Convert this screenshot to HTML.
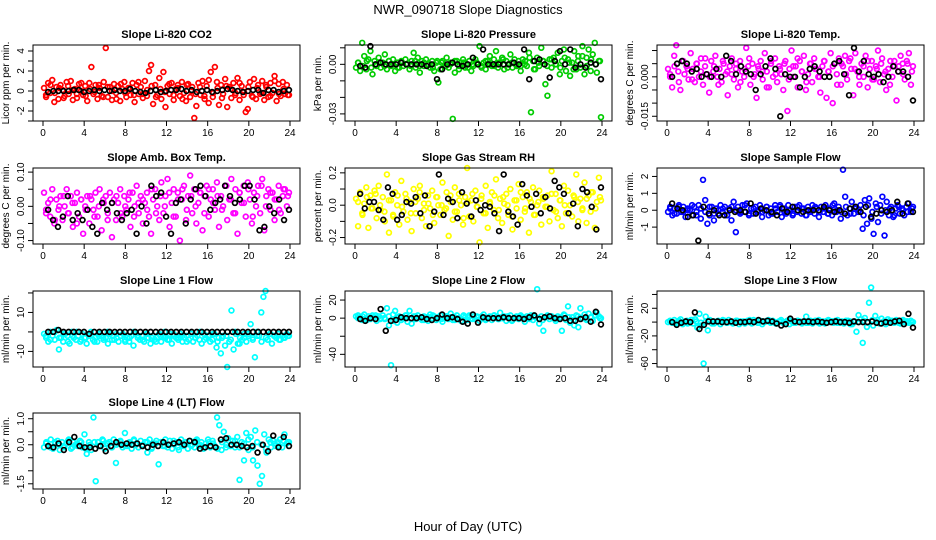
<!DOCTYPE html>
<html><head><meta charset="utf-8"><style>
body{margin:0;background:#fff}
svg{display:block;font-family:"Liberation Sans",sans-serif}
</style></head><body>
<svg id="c" width="936" height="540" viewBox="0 0 936 540">
<rect width="936" height="540" fill="#fff"/>
<text x="468" y="14" text-anchor="middle" font-size="13">NWR_090718  Slope Diagnostics</text>
<text x="468" y="531" text-anchor="middle" font-size="13">Hour of Day (UTC)</text>
</svg>
<script>
const xTicks=[0,4,8,12,16,20,24];
const titles=["Slope Li-820 CO2","Slope Li-820 Pressure","Slope Li-820 Temp.","Slope Amb. Box Temp.","Slope Gas Stream RH","Slope Sample Flow","Slope Line 1 Flow","Slope Line 2 Flow","Slope Line 3 Flow","Slope Line 4 (LT) Flow"];
const yTitles=["Licor ppm per min.","kPa per min.","degrees C per min.","degrees C per min.","percent per min.","ml/min per min.","ml/min per min.","ml/min per min.","ml/min per min.","ml/min per min."];
const colors=["#ff0000","#00cc00","#ff00ff","#ff00ff","#ffff00","#0000ff","#00ffff","#00ffff","#00ffff","#00ffff"];
const yTickVals=[[-3,-2,-1,0,1,2,3,4],[0.01,0,-0.01,-0.02,-0.03],[0.01,0.005,0,-0.005,-0.01,-0.015],[0.1,0.05,0,-0.05,-0.1],[0.2,0.1,0,-0.1,-0.2],[2,1,0,-1],[20,10,0,-10],[20,0,-20,-40],[40,20,0,-20,-40,-60],[1,0.5,0,-0.5,-1,-1.5]];
const yTickLabels=[["","-2","","0","","2","","4"],["","0.00","","","-0.03"],["","","0.000","","","-0.015"],["0.10","","0.00","","-0.10"],["0.2","","0.0","","-0.2"],["2","1","0","-1"],["","10","","-10"],["20","0","","-40"],["","20","","-20","","-60"],["1.0","","0.0","","","-1.5"]];
const yTop=[4.6,0.0117,0.0121,0.112,0.23,2.5,21,30,45,1.22];
const yBot=[-3.0,-0.0343,-0.0168,-0.11,-0.24,-2.0,-18,-54,-65,-1.7];

const colorVals=[
[0.3,-0.6,0.8,-0.2,1.1,-1.1,0.4,-0.8,0.6,0.1,-0.5,0.9,-0.3,1.0,-0.9,0.2,-0.7,0.7,0.0,-0.4,0.5,-1.0,0.8,2.4,-0.3,0.6,-0.8,0.3,-0.5,0.9,4.3,-0.6,0.4,-0.9,0.7,-0.2,0.5,-1.0,0.2,0.9,-0.6,0.3,-0.4,0.8,-1.1,0.6,-0.3,0.4,-0.7,1.0,-0.5,2.0,2.6,-1.3,0.6,-0.4,1.3,-0.8,1.9,-1.6,0.5,-0.3,0.8,-0.9,0.2,0.6,-0.5,0.9,-0.2,-1.0,0.7,-0.6,0.4,-2.7,-1.5,0.8,-0.4,1.0,-0.8,0.5,-1.2,1.9,-0.6,2.4,0.9,-1.4,0.6,-0.3,1.2,-1.6,0.4,-0.7,0.8,-0.2,1.3,-0.9,0.5,-0.4,-2.1,-1.8,0.9,-0.5,1.2,-0.8,0.6,-0.3,1.0,-0.9,0.4,-0.6,0.8,-0.2,1.5,-1.0,0.7,-0.5,0.9,-0.3,0.6,-0.4],
[-.002,.001,-.004,.013,.005,-.003,.003,.008,-.006,.002,-.001,.004,-.002,.001,.006,-.003,.002,-.001,.003,-.004,.001,-.002,.002,-.001,.003,.0,-.003,.002,.007,-.002,.004,-.005,.002,-.001,.003,.0,-.002,.002,-.004,.001,-.011,-.003,.002,-.001,.004,-.002,.001,-.033,-.005,.002,-.003,.001,.003,-.002,.0,.002,-.004,-.001,.003,.0,.011,-.002,.001,-.003,.002,.005,-.001,.003,.008,-.002,.001,.004,-.003,.002,.0,.006,-.002,.003,-.001,.002,-.004,.003,.0,-.001,.007,-.029,.002,-.003,.004,-.001,.01,.002,-.012,-.019,.003,-.002,.004,.0,.007,-.006,.002,.009,-.004,.003,-.007,.001,.008,-.003,.005,-.002,.011,-.006,.004,.009,-.004,.006,.013,-.005,.002,-.032],
[.003,.0,-.004,.008,.012,.002,-.005,.006,.001,.004,-.001,.009,.003,-.002,.005,.0,.007,-.003,.004,.001,-.006,.006,.002,.008,.0,.003,-.002,.005,.001,-.007,.004,.007,-.001,.003,-.004,.006,.002,.0,.011,.004,-.003,.005,.001,-.008,.003,.006,-.001,.009,.002,-.004,.005,.0,.007,-.002,.004,.001,-.005,.006,-.013,.003,.010,.0,.004,-.004,.006,.002,.008,-.005,.001,.005,-.002,.007,.003,.0,-.006,.004,.006,-.008,.002,.009,-.01,.005,.001,.007,-.003,.004,.008,-.001,.006,.003,-.007,.009,.002,-.003,.005,.0,.008,-.004,.003,.006,-.001,.004,.010,-.002,.007,.001,-.005,.003,.006,.0,.004,-.009,.002,.008,.005,-.001,.006,.009,-.003,.004],
[.04,-.02,.01,-.03,.05,-.05,.02,-.01,.03,-.04,.0,.05,-.02,.03,-.06,.01,.04,-.03,.02,-.08,.0,.03,-.05,.02,-.01,.04,-.03,.05,-.07,.01,.03,-.02,.04,-.09,.02,-.04,.01,.05,-.03,.03,-.01,.02,-.06,.04,.0,.06,-.02,.03,-.05,.01,.04,-.03,-.08,.02,.05,.0,-.04,.07,-.02,.03,.08,-.06,.01,.05,-.03,.04,-.1,.02,.06,-.04,.03,.09,-.02,.05,-.05,.01,.04,-.07,.03,.06,-.03,.02,.05,-.01,.07,-.06,.03,.0,.06,-.04,.02,.08,-.02,.05,-.08,.04,.01,.06,-.03,.07,.02,-.05,.04,.0,.06,-.02,.08,-.07,.03,.05,-.01,.04,-.04,.02,.06,-.02,.03,.05,.0,.04],
[.04,-.13,.08,-.05,.01,.11,-.14,.06,-.02,.09,-.08,.12,-.03,.05,-.1,.19,-.17,.03,-.06,.08,.0,-.12,.15,-.04,.07,-.09,.02,-.16,.1,-.05,.04,.12,-.08,.01,-.13,.06,-.02,.09,-.11,.05,.0,-.06,.14,-.03,.08,-.19,.02,-.09,.11,-.04,.07,.0,-.12,.05,.23,-.07,.03,-.1,.09,-.01,-.23,.06,-.05,.12,-.14,.02,.08,-.03,.16,-.08,.04,-.11,.01,.07,-.06,.1,-.15,.03,-.02,.13,-.09,.05,-.04,.08,-.17,.02,.11,-.06,.0,.09,-.12,.04,-.01,.06,-.1,.21,-.03,.07,-.08,.03,-.13,.12,-.05,.09,.0,-.07,.05,.19,-.1,.04,-.02,.14,-.11,.06,-.04,.08,-.14,.02,.17,.03],
[-.1,.2,-.3,.1,-.2,.3,-.1,.2,-.4,.1,.0,-.3,.2,-.1,.3,-.5,1.8,.6,-.8,-.3,.2,-.6,.1,-.2,.3,-.1,.2,-.3,.1,-.6,.5,-1.3,.2,-.2,.3,-.1,.4,-.3,.1,-.2,.2,-.1,.3,-.4,.0,.2,-.3,.1,-.2,.3,-.1,.2,-.4,.1,-.2,.3,.0,-.3,.2,-.1,.3,-.2,.1,-.3,.2,-.1,.3,-.2,.1,-.4,.2,-.1,.3,-.2,.1,-.3,.4,-.1,.2,-.5,2.4,.8,-.3,.1,.5,-.2,.2,-.1,.3,-1.1,.6,-.8,.7,-.5,-1.4,.4,-.7,.3,.8,-1.5,.5,-.3,.2,-.4,.1,.3,-.2,.1,-.3,.2,.4,-.1,.2],
[-1,-3,-5,0,-2,-4,1,-9,-3,-5,-1,-2,-6,0,-3,-4,-2,-5,-1,-3,-6,-2,0,-4,-3,-5,-1,-2,-4,-3,-6,-1,-2,-4,-3,-5,-2,-1,-4,-3,-5,-2,-7,-1,-3,-4,-2,-5,-1,-3,-6,-2,-4,-3,-1,-5,-2,-3,-4,-1,-6,-2,-3,-4,-1,-5,-3,-2,-4,-1,-5,-3,-2,-4,-6,-1,-3,-2,-5,-4,-1,-8,-3,-11,-2,-7,-18,-5,11,-9,-1,-6,-3,-4,-1,-5,-2,4,-3,-13,0,-2,10,18,21,-4,-1,-6,-2,-3,-1,-4,-2,-3,-1,-2],
[2,3,1,-2,4,0,2,-1,3,1,-3,2,0,3,-1,11,-8,-52,4,8,-5,2,-2,1,3,-4,8,-6,2,-1,3,0,-2,2,1,-3,4,0,2,-2,1,3,-4,0,2,-1,5,-2,1,3,0,-3,2,1,-2,3,0,2,-1,1,-3,2,4,-1,0,2,-2,3,1,-1,6,0,2,-3,1,3,-2,0,2,-1,3,1,-4,2,0,3,-2,1,32,-6,2,-14,1,3,-1,2,0,-3,2,1,-14,4,-2,13,-5,1,-8,3,-10,11,0,4,-2,5,1,-3,3,6,2,0],
[0,2,-1,3,-2,1,4,-3,0,2,-1,3,-2,4,-8,12,-5,-60,8,-12,3,-2,1,0,2,-3,1,2,-1,3,0,-2,1,2,-3,0,1,-1,2,3,-2,0,1,-1,2,-3,0,1,3,-1,2,0,-2,1,3,-1,0,2,-3,1,0,-1,2,1,-2,0,8,-1,2,-2,1,0,3,-1,1,-2,2,0,1,-1,2,3,-1,1,-2,0,2,1,-3,0,-14,10,4,-30,6,-7,28,50,-5,9,3,-2,5,1,-3,4,0,2,-1,3,1,-2,2,0,1,-1,2,0],
[-.1,.1,-.05,.2,-.15,.05,.15,-.2,.1,-.1,.05,.2,-.15,.1,.0,-.05,.15,-.1,.4,-.35,.1,-.2,1.05,-1.4,.1,-.05,.2,-.15,.05,.1,-.1,.2,-.7,.05,.15,-.1,.45,-.05,.1,-.15,.2,.0,-.1,.15,-.05,.1,-.3,.2,-.1,.05,.15,-.75,.1,-.05,.2,-.1,.15,-.15,.05,.1,-.2,.2,-.05,.1,-.15,.15,.0,-.1,.2,-.05,.1,-.15,.05,.2,-.1,.15,-.05,1.05,.75,-.2,.5,-.1,.25,-.05,.15,-.1,.3,-1.35,.1,-.6,.45,-.2,.3,-.6,.55,-.8,-1.5,-1.2,.4,-.3,.2,-.1,.15,-.05,.1,.2,-.1,.4,.05,.1]
];
// second set of colored band readings (offset half a step in time)
const colorVals2=[
[-0.4,0.6,-0.2,0.3,-0.7,0.5,0.1,-0.3,0.8,-0.5,0.2,-0.1,0.6,-0.6,0.4,0.0,-0.8,0.7,-0.2,0.3,-0.4,0.9,-0.3,0.1,0.5,-0.6,0.2,-0.1,0.7,-0.4,0.3,-0.8,0.6,0.0,-0.3,0.4,-0.5,1.1,-0.2,0.3,-0.7,0.5,0.2,-0.4,0.8,-0.1,0.4,-0.6,0.3,-0.2,0.6,-0.5,1.0,-0.3,0.2,-0.4],
[.001,-.001,.002,-.002,.0,.001,-.001,.002,.0,-.002,.001,.0,-.001,.002,-.001,.001,.0,-.002,.002,.001,-.001,.0,.002,-.001,.001,-.002,.0,.001,-.001,.002,.0,-.001,.001,.003,-.002,.001,.0,-.001,.002,.004,-.003,.001,.002,-.001,.003,.0,-.002,.004,.001,-.003,.002,.005,-.001,.003,.0,.002],
[.001,.004,-.002,.006,.003,-.001,.005,.002,.007,.0,.004,-.003,.006,.002,.001,.005,-.002,.003,.007,.0,.004,.002,-.004,.006,.001,.003,.005,-.001,.004,.007,.002,-.002,.005,.003,.0,.006,.002,.004,-.003,.005,.001,.007,.003,.0,.004,.006,-.001,.003,.005,.002,-.003,.006,.004,.001,.005,.002],
[-.01,.02,-.04,.0,.03,-.02,.01,-.05,.02,-.01,.03,-.03,.0,.02,-.04,.01,.03,-.02,.0,.04,-.03,.01,.02,-.01,.05,-.02,.03,.0,.04,-.03,.02,.05,-.01,.03,.0,.04,-.02,.05,.01,.03,-.01,.06,.02,-.02,.04,.01,.05,-.03,.03,.06,.0,.04,.02,-.01,.05,.03],
[.02,-.06,.05,-.02,.07,.0,-.04,.03,-.07,.06,-.01,.04,-.05,.02,.08,-.03,.01,-.06,.05,.0,-.02,.06,-.04,.03,-.08,.02,.07,-.01,.04,-.05,.01,.06,-.03,.05,.0,-.07,.03,.08,-.02,.04,-.06,.02,.05,-.01,.07,-.04,.03,.0,-.05,.06,.02,-.03,.04,.08,-.02,.05],
[.1,-.2,.2,-.1,.0,.3,-.3,.1,-.1,.2,-.2,.0,.1,-.3,.2,.0,-.1,.3,-.2,.1,.0,-.1,.2,-.2,.1,.3,-.1,.0,-.2,.2,.1,-.3,.0,.2,-.1,.1,-.2,.3,.0,-.1,.2,-.2,.1,.0,-.3,.3,-.1,.2,-.2,.0,.1,-.3,.2,.0,-.1,.1],
[-2,-4,0,-3,-1,-5,-2,0,-4,-3,-1,-5,-2,-3,0,-4,-1,-2,-5,-3,0,-2,-4,-1,-3,-5,-2,0,-4,-1,-3,-2,-5,-1,-3,0,-4,-2,-1,-5,-3,-2,-4,0,-6,-3,-1,-4,-2,-5,-3,-1,-2,-4,-3,-2],
[0,2,-2,1,3,-1,0,2,-3,1,0,3,-1,2,0,-2,1,3,0,-1,2,1,-2,0,3,1,-1,2,0,-2,1,3,-1,0,2,-3,1,2,0,-1,3,0,-2,1,2,-1,0,3,1,-2,2,0,-1,1,3,0],
[1,-1,2,0,-2,3,1,-1,0,2,-2,1,3,-1,0,2,1,-2,0,3,-1,1,2,0,-2,1,0,3,-1,2,0,-1,1,2,-2,0,3,1,-1,0,2,-3,1,0,2,-1,3,0,-2,1,2,0,-1,3,1,0],
[.05,-.1,.1,.0,-.05,.15,-.1,.05,.1,-.15,.0,.1,-.05,.15,.05,-.1,.0,.1,-.05,.05,.15,-.1,.0,.1,-.15,.05,.1,-.05,.0,.15,-.1,.05,.1,-.05,.15,.0,-.1,.1,.05,-.15,.1,.0,-.05,.15,-.1,.05,.2,-.1,.1,.0,-.15,.1,.05,-.05,.15,.1]
];
const blackVals=[
[-0.1,0.0,0.0,0.0,0.0,0.1,0.1,-0.1,0.0,0.1,0.0,0.1,0.0,0.1,0.0,0.0,0.2,0.0,-0.1,-0.2,0.0,0.1,-0.1,0.0,0.1,0.1,0.2,0.0,0.1,-0.1,0.0,0.1,-0.1,0.0,0.1,0.2,0.1,0.0,-0.1,0.0,0.1,0.1,-0.2,0.1,0.1,-0.1,0.0,0.1],
[-.001,-.002,.011,.0,.001,.0,.0,.0,.001,.0,.0,.0,.0,-.001,.0,-.009,-.003,.0,.001,.0,-.001,.0,.004,.0,.009,.0,.0,.0,.0,.0,.001,.0,.009,-.009,.002,.003,.0,-.008,.002,.008,.0,.009,-.002,.0,-.002,.001,.0,-.009],
[.0,.005,.006,.005,.002,.003,.0,.001,.0,.003,.0,.008,.006,.001,.004,.002,.001,-.005,.001,.004,.007,.003,-.015,.001,.0,.0,-.004,.0,.003,.004,.002,.0,.0,.005,.006,.001,-.007,.011,.002,.006,.001,.0,.001,-.002,.0,.004,.002,.002,.0,-.009],
[-.01,-.04,-.06,-.03,.03,-.04,-.02,-.04,-.01,-.06,-.08,.01,-.01,.01,-.02,-.04,-.02,-.01,-.08,.0,-.05,.06,.03,.04,-.03,-.08,.01,.02,-.05,.02,.05,.06,.03,-.01,.01,.02,.06,.03,.01,.02,.06,.06,.02,-.07,-.06,.0,-.02,.02,-.04,-.01],
[.07,-.02,.02,.02,-.03,-.09,.11,.07,-.09,-.06,.02,.01,.05,-.05,.06,-.13,-.04,.19,-.06,.04,.02,-.08,.08,.01,-.07,.03,-.03,.0,-.01,-.05,-.16,.19,-.04,-.07,-.12,.13,.06,-.01,.07,-.05,.05,-.02,.15,.11,.07,-.05,.01,-.13,.1,.08,-.01,-.15,.11],
[.4,.1,.0,-.4,-.3,-1.8,.2,-.2,.0,-.3,-.3,.0,-.1,.0,-.1,.4,-.2,.1,.0,-.1,-.3,.1,-.1,.2,.0,-.1,.0,.0,.0,.2,.0,-.1,.0,-.2,.1,.2,-.1,.2,-.4,-.2,.0,-.1,.0,.5,-.2,.4,-.1],
[0,0,1,0,0,0,0,0,-1,0,0,0,0,0,0,0,0,0,0,0,0,0,0,0,0,0,0,0,0,0,0,0,0,0,0,0,0,0,0,0,0,0,0,0,0,0,0,0],
[-1,-3,0,-1,10,-14,-3,-2,1,0,0,0,1,-1,-2,0,4,0,1,-1,-4,-6,4,-5,1,0,0,0,1,0,0,0,-1,1,3,-1,1,2,0,-1,0,-3,-3,-1,1,-4,7,-7],
[0,-4,-1,1,0,14,-10,-4,1,1,1,0,0,1,-1,0,0,1,0,3,1,2,1,-2,-5,-3,5,1,0,1,1,0,1,0,-1,0,1,0,0,-1,1,0,0,0,1,-1,-2,0,-1,1,2,-3,12,-8],
[-.05,-.1,.05,-.2,.1,.3,-.05,-.1,-.1,-.15,-.05,-.25,-.05,.1,.0,.05,.0,.05,-.05,-.1,.0,-.05,.1,.0,.05,.1,.0,.15,.1,-.15,-.1,-.05,-.1,.2,.25,.0,.0,-.05,-.1,-.05,-.3,.0,-.25,.35,-.1,.3,-.05]
];

const svg=document.getElementById('c');
const NS='http://www.w3.org/2000/svg';
function mk(tag,attrs,parent){const e=document.createElementNS(NS,tag);for(const k in attrs)e.setAttribute(k,attrs[k]);parent.appendChild(e);return e;}
const colL=[33,345,657], rowT=[45,168,291,413], W=267, H=76;
for(let p=0;p<10;p++){
  const L=colL[p%3], T=rowT[Math.floor(p/3)], R=L+W, B=T+H;
  const g=mk('g',{},svg);
  
  
  const xs=v=>L+10+v*(247/24);
  const ys=v=>T+(yTop[p]-v)/(yTop[p]-yBot[p])*H;
  const t=mk('text',{x:(L+R)/2,y:T-7,'text-anchor':'middle','font-size':11,'font-weight':'bold'},g);
  t.textContent=titles[p];
  
  
  const cg=mk('g',{fill:'none',stroke:colors[p],'stroke-width':1.7},g);
  
  
  const cv=colorVals[p];
  cv.forEach((v,i)=>{const c=mk('circle',{cx:xs(0.1+i*23.8/(cv.length-1)),cy:ys(v),r:2.4},cg);
    
    });
  const cv2=colorVals2[p];
  cv2.forEach((v,i)=>{const c=mk('circle',{cx:xs(0.3+i*23.5/(cv2.length-1)),cy:ys(v),r:2.4},cg);
    
    });
  const bg=mk('g',{fill:'none',stroke:'#000','stroke-width':1.7},g);
  
  
  const bv=blackVals[p];
  bv.forEach((v,i)=>{const c=mk('circle',{cx:xs(0.5+i*23.4/(bv.length-1)),cy:ys(v),r:2.4},bg);
    
    });
  const box=mk('rect',{x:L,y:T,width:W,height:H,fill:'none',stroke:'#000','stroke-width':1},g);
  
  
  const xa=mk('g',{},g);
  
  
  mk('line',{x1:xs(0),x2:xs(24),y1:B,y2:B,stroke:'#000'},xa);
  xTicks.forEach(v=>{mk('line',{x1:xs(v),x2:xs(v),y1:B,y2:B+5,stroke:'#000'},xa);
    const tl=mk('text',{x:xs(v),y:B+15,'text-anchor':'middle','font-size':10},xa);tl.textContent=v;
    
    });
  const ya=mk('g',{},g);
  
  
  const tv=yTickVals[p];
  mk('line',{x1:L,x2:L,y1:ys(tv[0]),y2:ys(tv[tv.length-1]),stroke:'#000'},ya);
  tv.forEach((v,i)=>{const y=ys(v);mk('line',{x1:L-5,x2:L,y1:y,y2:y,stroke:'#000'},ya);
    const s=yTickLabels[p][i];
    if(s){const tl=mk('text',{x:L-9,y:y,'text-anchor':'middle','font-size':10,transform:`rotate(-90 ${L-9} ${y})`},ya);tl.textContent=s;
      
      }});
  const yt=mk('text',{x:L-24,y:(T+B)/2,'text-anchor':'middle','font-size':10,transform:`rotate(-90 ${L-24} ${(T+B)/2})`},g);
  yt.textContent=yTitles[p];
  
  
}
</script>
</body></html>
